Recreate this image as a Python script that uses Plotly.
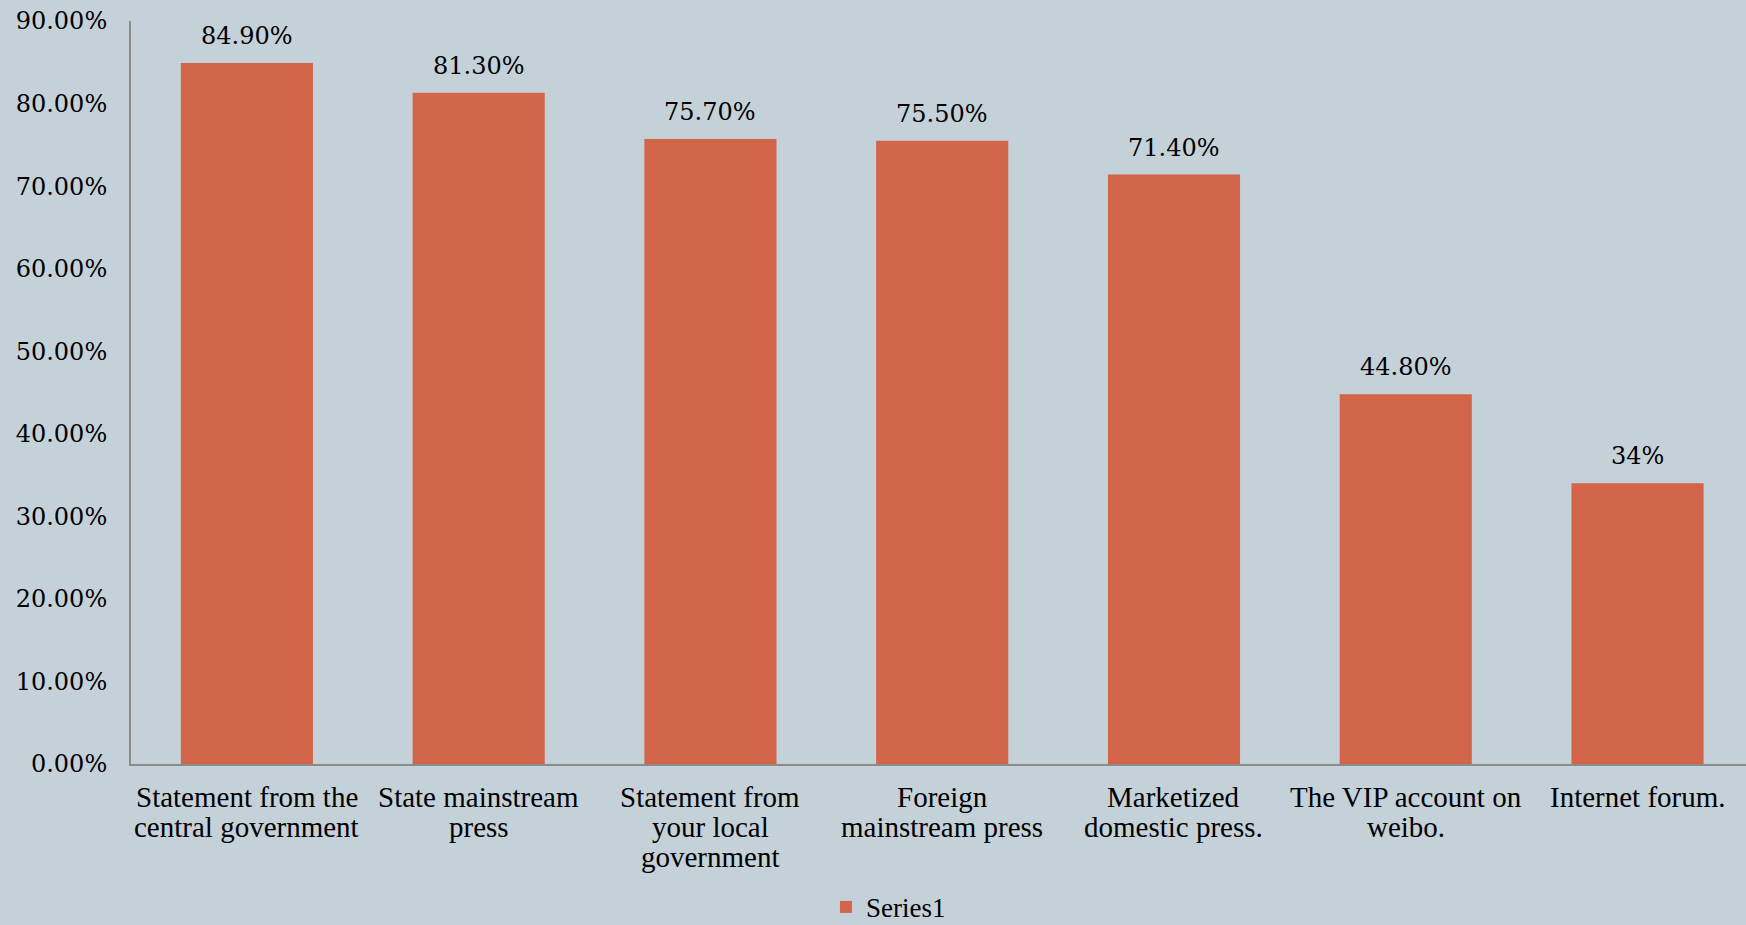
import plotly.graph_objects as go

categories = [
    "Statement from the<br>central government",
    "State mainstream<br>press",
    "Statement from<br>your local<br>government",
    "Foreign<br>mainstream press",
    "Marketized<br>domestic press.",
    "The VIP account on<br>weibo.",
    "Internet forum.",
]
values = [84.9, 81.3, 75.7, 75.5, 71.4, 44.8, 34.0]
value_labels = ["84.90%", "81.30%", "75.70%", "75.50%", "71.40%", "44.80%", "34%"]
y_ticks = [0, 10, 20, 30, 40, 50, 60, 70, 80, 90]
y_ticktext = ["%.2f%%" % v for v in y_ticks]

BG = "#C5D1D8"
BAR = "#D2644A"
AXIS = "#8C8C8C"
NUMFONT = dict(family="DejaVu Serif", size=24, color="#000000")
CATFONT = dict(family="Liberation Serif", size=29, color="#000000")
LEGFONT = dict(family="Liberation Serif", size=27, color="#000000")

x_idx = list(range(len(categories)))

fig = go.Figure()
fig.add_trace(go.Bar(
    x=x_idx, y=values, name="Series1",
    marker=dict(color=BAR, line=dict(width=0)),
    showlegend=True,
))

# value labels above bars
for xi, v, lab in zip(x_idx, values, value_labels):
    fig.add_annotation(
        x=xi, y=v, text=lab, showarrow=False,
        xanchor="center", yanchor="bottom", yshift=11,
        font=NUMFONT,
    )

# category labels (one annotation per line for tight line spacing)
LINE_GAP = 30
FIRST_OFFSET = 33
for xi, cat in zip(x_idx, categories):
    for k, line in enumerate(cat.split("<br>")):
        fig.add_annotation(
            x=xi, xref="x", y=0, yref="paper", text=line, showarrow=False,
            xanchor="center", yanchor="middle",
            yshift=-(FIRST_OFFSET + k * LINE_GAP),
            font=CATFONT,
        )

fig.update_layout(
    width=1746, height=925,
    paper_bgcolor=BG, plot_bgcolor=BG,
    margin=dict(l=131, r=0, t=21, b=161, autoexpand=False),
    bargap=0.43,
    xaxis=dict(
        range=[-0.5, 6.468],
        tickmode="array", tickvals=x_idx, showticklabels=False,
        showgrid=False, zeroline=False,
        showline=True, linecolor=AXIS, linewidth=2,
        ticks="", automargin=False,
    ),
    yaxis=dict(
        range=[0, 90],
        tickmode="array", tickvals=y_ticks, ticktext=y_ticktext,
        tickfont=NUMFONT, showgrid=False, zeroline=False,
        showline=True, linecolor=AXIS, linewidth=2,
        ticks="", ticklabelstandoff=17, automargin=False,
    ),
    legend=dict(
        orientation="h", x=0.469, y=-0.193, xanchor="center", yanchor="middle",
        font=LEGFONT, bgcolor="rgba(0,0,0,0)",
        itemwidth=30,
    ),
)

fig.write_html(
    "out.html",
    config={"displayModeBar": False},
    post_script="document.body.style.margin='0';document.body.style.background='%s';" % BG,
)
